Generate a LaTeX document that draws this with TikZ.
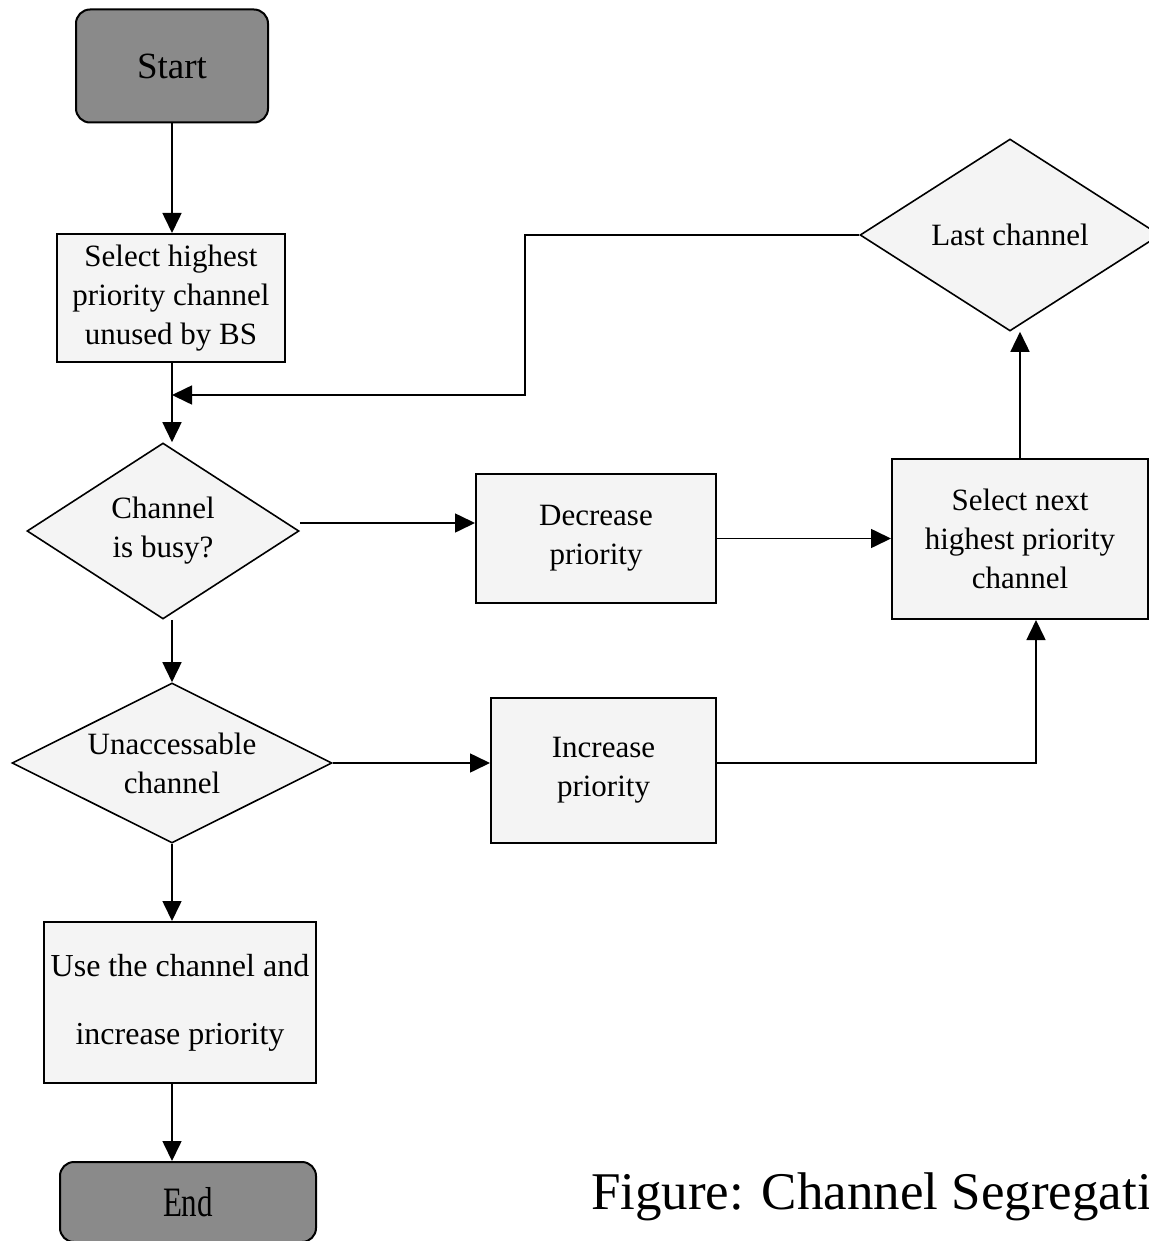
\documentclass[tikz,border=0pt]{standalone}
\usepackage{fontspec}
\setmainfont{Liberation Serif}
\usepackage{tikz}
\usetikzlibrary{shapes.geometric, arrows.meta}
\definecolor{boxgray}{HTML}{F4F4F4}
\definecolor{termgray}{HTML}{8A8A8A}

\begin{document}
\begin{tikzpicture}[x=0.5pt, y=-0.5pt,
  every node/.style={draw, line width=1pt, inner sep=0pt, align=center, font=\fontsize{15.5}{19.5}\selectfont},
  termbox/.style={rectangle, rounded corners=7pt, fill=termgray},
  procbox/.style={rectangle, fill=boxgray},
  choicebox/.style={diamond, fill=boxgray, line width=0.8pt},
  flow/.style={line width=0.8pt, -{Triangle[length=10pt, width=9.5pt]}}]

\useasboundingbox (0,0) rectangle (1149,1241);
\clip (0,0) rectangle (1149,1241);

% Nodes of the flow chart
\node[termbox, minimum width=96pt, minimum height=56.5pt, font=\fontsize{18.5}{22}\selectfont] (start) at (172,66) {Start}; % Top
\node[procbox, minimum width=114pt, minimum height=64pt] (select) at (171,298) {Select highest\\priority channel\\unused by BS};
\node[choicebox, aspect=1.55, minimum width=136pt, minimum height=88pt] (busy) at (163,531) {Channel\\is busy?};
\node[choicebox, aspect=2, minimum width=160pt, minimum height=80pt] (una) at (172,763) {Unaccessable\\channel};
\node[procbox, minimum width=136pt, minimum height=80.5pt, font=\fontsize{16}{34}\selectfont] (use) at (180,1002.5) {Use the channel and\\increase priority};
\node[termbox, minimum width=128pt, minimum height=40pt] (stop) at (188,1202) {\scalebox{1}[1.35]{End}}; % Bottom
\node[procbox, minimum width=120pt, minimum height=64.5pt] (dec) at (596,538.5) {Decrease\\priority};
\node[procbox, minimum width=112.5pt, minimum height=72.5pt] (inc) at (603.5,770.5) {Increase\\priority};
\node[procbox, minimum width=128pt, minimum height=80pt] (nextch) at (1020,539) {Select next\\highest priority\\channel};
\node[choicebox, aspect=1.55, minimum width=150pt, minimum height=96pt] (last) at (1010,235) {Last channel}; % Top-right
\node[draw=none, anchor=base west, font=\fontsize{26.5}{30}\selectfont] (caption) at (590,1209) {Figure: Channel Segregati};

% Connectors
\coordinate (merge) at (172,395);
\coordinate (bend) at (525,395);
\draw[flow] (start.south) -- (start.south |- select.north);
\draw[flow] (start.south |- select.south) -- (start.south |- busy.north);
\draw[flow] (last.west) -| (bend) -- (merge);
\draw[flow] ([yshift=4pt]busy.east) -- ([yshift=4pt]busy.east -| dec.west);
\draw[flow] (dec.east) -- (dec.east -| nextch.west);
\draw[flow] (nextch.north) -- (nextch.north |- last.south);
\draw[flow] (start.south |- busy.south) -- (start.south |- una.north);
\draw[flow] (una.east) -- (una.east -| inc.west);
\draw[flow] (una.east -| inc.east) -| ([xshift=8pt]nextch.south);
\draw[flow] (start.south |- una.south) -- (start.south |- use.north);
\draw[flow] (start.south |- use.south) -- (start.south |- stop.north);
\end{tikzpicture}
\end{document}
